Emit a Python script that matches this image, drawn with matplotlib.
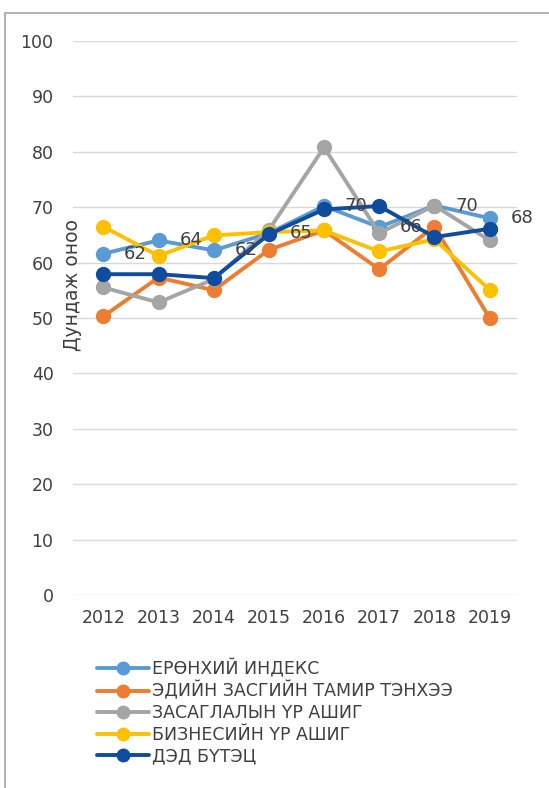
import numpy as np
import matplotlib.pyplot as plt
from matplotlib.patches import Rectangle

plt.rcParams['font.family'] = ['DejaVu Sans']

years = ['2012', '2013', '2014', '2015', '2016', '2017', '2018', '2019']

# series
general = [61.6, 64.0, 62.2, 65.3, 70.2, 66.4, 70.3, 68.0]
economy = [50.3, 57.3, 55.0, 62.3, 65.8, 58.8, 66.5, 50.0]
government = [55.5, 52.8, 57.0, 65.9, 80.8, 65.3, 70.3, 64.0]
business = [66.5, 61.2, 64.9, 65.5, 65.8, 62.0, 64.2, 55.1]
infrastructure = [57.9, 57.9, 57.2, 65.1, 69.6, 70.2, 64.6, 66.1]

labels_general = ['62', '64', '62', '65', '70', '66', '70', '68']

names = ['ЕРӨНХИЙ ИНДЕКС', 'ЭДИЙН ЗАСГИЙН ТАМИР ТЭНХЭЭ',
         'ЗАСАГЛАЛЫН ҮР АШИГ', 'БИЗНЕСИЙН ҮР АШИГ', 'ДЭД БҮТЭЦ']
colors = ['#5B9BD5', '#ED7D31', '#A5A5A5', '#FFC000', '#0F4C9E']
series = [general, economy, government, business, infrastructure]

fig = plt.figure(figsize=(5.49, 7.88), dpi=100)
ax = fig.add_axes([0.133, 0.245, 0.809, 0.703])

# outer chart border
fig.patches.append(Rectangle((5 / 549, -0.05), 1.0, 1 - 13 / 788 + 0.05,
                             transform=fig.transFigure, fill=False,
                             edgecolor='#A6A6A6', linewidth=1.2))

x = np.arange(len(years))
for vals, name, c in zip(series, names, colors):
    ax.plot(x, vals, color=c, linewidth=2.8, marker='o', markersize=10,
            label=name, solid_capstyle='round')

for xi, v, lab in zip(x, general, labels_general):
    ax.annotate(lab, (xi, v), xytext=(15, 0), textcoords='offset points',
                ha='left', va='center', fontsize=13, color='#404040')

ax.set_xlim(-0.55, 7.5)
ax.set_ylim(0, 100)
ax.set_yticks(range(0, 101, 10))
ax.set_xticks(x)
ax.set_xticklabels(years)
ax.grid(axis='y', color='#D9D9D9', linewidth=1)
ax.set_axisbelow(True)
for s in ax.spines.values():
    s.set_visible(False)
ax.tick_params(length=0, labelsize=12.5, colors='#404040', pad=14)
ax.tick_params(axis='x', pad=10)

fig.text(72 / 549, 1 - 285 / 788, 'Дундаж оноо', rotation=90,
         ha='center', va='center', fontsize=13.5, color='#404040')

ax.legend(loc='upper left', bbox_to_anchor=(90 / 549, 1 - 652 / 788),
          bbox_transform=fig.transFigure, frameon=False, fontsize=12.5,
          handlelength=3.0, handletextpad=0.2, labelspacing=0.2,
          labelcolor='#404040', borderaxespad=0, markerscale=0.9)

fig.savefig('out.png', dpi=100)
